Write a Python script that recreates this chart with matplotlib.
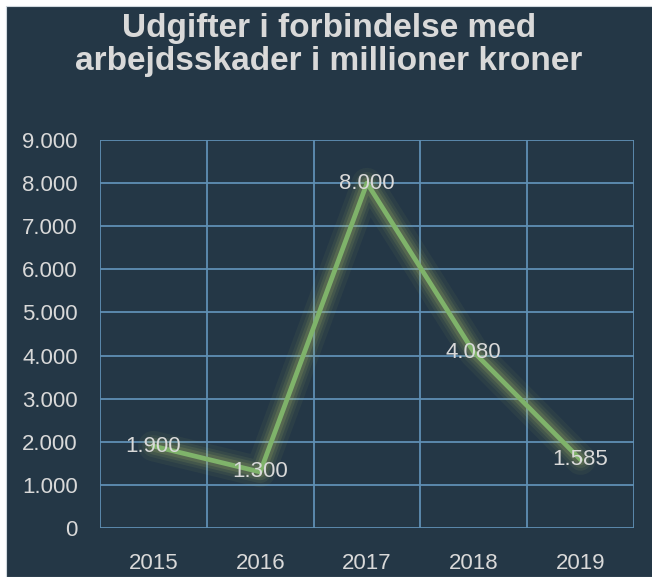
import numpy as np
import matplotlib.pyplot as plt
from matplotlib.patches import Rectangle

# Data
years = ["2015", "2016", "2017", "2018", "2019"]
expenses = [1900, 1300, 8000, 4080, 1585]
labels = ["1.900", "1.300", "8.000", "4.080", "1.585"]
y_ticks = [0, 1000, 2000, 3000, 4000, 5000, 6000, 7000, 8000, 9000]
y_tick_labels = ["0", "1.000", "2.000", "3.000", "4.000", "5.000",
                 "6.000", "7.000", "8.000", "9.000"]

bg = "#243746"
grid_col = "#5f8fb4"
text_col = "#d9d9d9"
line_col = "#7fb36a"
glow_col = "#c6d46a"

plt.rcParams["font.family"] = ["Liberation Sans", "DejaVu Sans"]

fig = plt.figure(figsize=(6.52, 5.77), dpi=100)
fig.patch.set_facecolor("white")
# dark chart area with thin white margin at top/left
fig.patches.append(Rectangle((6 / 652, 0), 1, 1 - 6 / 577, transform=fig.transFigure,
                             facecolor=bg, edgecolor="#d0d8de", linewidth=0.8, zorder=-5))

ax = fig.add_axes([100 / 652, 1 - 528 / 577, 534 / 652, 388 / 577])
ax.set_facecolor(bg)

x = np.arange(len(years))
ax.set_xlim(-0.5, len(years) - 0.5)
ax.set_ylim(0, 9000)

# grid
for xv in np.arange(-0.5, len(years), 1.0):
    ax.axvline(xv, color=grid_col, linewidth=1.3, zorder=1)
for yv in y_ticks:
    ax.axhline(yv, color=grid_col, linewidth=1.3, zorder=1)

# glow
for w, a in [(22, 0.05), (16, 0.07), (12, 0.1), (8, 0.14)]:
    ax.plot(x, expenses, color=glow_col, linewidth=w, alpha=a,
            solid_capstyle="round", solid_joinstyle="round", zorder=2)
ax.plot(x, expenses, color=line_col, linewidth=3.4,
        solid_capstyle="round", solid_joinstyle="round", zorder=3)

for xi, yi, lab in zip(x, expenses, labels):
    ax.text(xi, yi, lab, ha="center", va="center", color=text_col,
            fontsize=16, zorder=4)

ax.set_xticks(x)
ax.set_xticklabels(years, fontsize=16, color=text_col)
ax.set_yticks(y_ticks)
ax.set_yticklabels(y_tick_labels, fontsize=16, color=text_col)
ax.tick_params(length=0)
ax.tick_params(axis="y", pad=16)
ax.tick_params(axis="x", pad=18)
for s in ax.spines.values():
    s.set_visible(False)

fig.text(329 / 652, 1 - 45 / 577,
         "Udgifter i forbindelse med\narbejdsskader i millioner kroner",
         ha="center", va="center", color=text_col, fontsize=24,
         fontweight="bold", linespacing=1.1)

plt.savefig("out.png", dpi=100, facecolor=fig.get_facecolor())
